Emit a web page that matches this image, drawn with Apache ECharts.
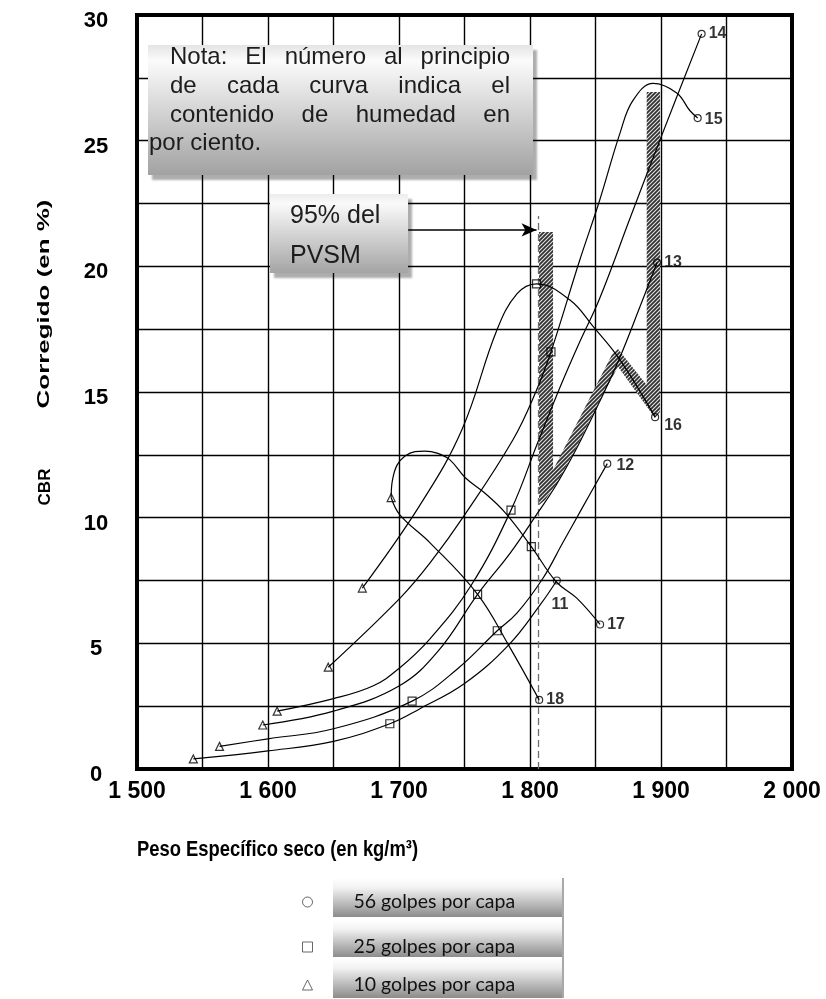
<!DOCTYPE html>
<html lang="es">
<head>
<meta charset="utf-8">
<title>CBR corregido – Peso específico seco</title>
<script src="https://cdn.jsdelivr.net/npm/echarts@6.0.0/dist/echarts.min.js"></script>
<style>
  html, body { margin: 0; padding: 0; background: #ffffff; }
  #grafico { width: 826px; height: 999px; }
</style>
</head>
<body>
<div id="grafico"></div>
<script>
// ---------------- Datos del ensayo ----------------
// Contenido de humedad (%) de cada curva
const humedades = [11, 12, 13, 14, 15, 16, 17, 18];

// Probetas de 56 golpes por capa, una por humedad (mismo orden que humedades)
// [peso específico seco (kg/m³), CBR corregido (%)]
const golpes56 = [
  [1820.5, 7.5], [1859, 12.15], [1897, 20.15], [1931, 29.25],
  [1928, 25.9], [1895.5, 14.0], [1853.5, 5.75], [1807, 2.75]
];
// Probetas de 25 golpes por capa
const golpes25 = [
  [1693, 1.8], [1710, 2.7], [1775, 5.5], [1760, 6.95],
  [1801, 8.85], [1785.5, 10.3], [1816, 16.6], [1805, 19.3]
];
// Probetas de 10 golpes por capa
const golpes10 = [
  [1543, 0.4], [1563, 0.9], [1596, 1.75], [1607, 2.3],
  [1646, 4.05], [1672, 7.2], [1694, 10.8]
];

// Probetas de 10 y 25 golpes por las que pasa cada curva (índices)
const probetasPorCurva = {
  11: { g10: [0], g25: [0] },
  12: { g10: [1], g25: [1, 2] },
  13: { g10: [2], g25: [3] },
  14: { g10: [3], g25: [5] },
  15: { g10: [4], g25: [6] },
  16: { g10: [5], g25: [7] },
  17: { g10: [6], g25: [4] },
  18: { g10: [6], g25: [3] }
};

// Trazado de cada curva entre probetas
const trazo11 = [[1600, 0.72], [1650, 1.1], [1716, 2.4], [1750, 3.4], [1784, 4.95], [1808, 6.55]];
const trazo12 = [[1600, 1.2], [1650, 1.6], [1745, 4.0], [1790, 6.2], [1810, 7.6], [1825, 9.0], [1840, 10.4]];
const trazo13 = [[1650, 2.3], [1700, 3.3], [1730, 4.7], [1785, 8.6], [1806, 10.2], [1820, 11.3],
                 [1835, 12.7], [1853, 14.6], [1868, 16.3], [1884, 18.4]];
const trazo14 = [[1650, 2.8], [1680, 3.3], [1700, 4.0], [1724, 5.2], [1755, 7.3], [1806, 13.0],
                 [1823, 15.2], [1838, 17.0], [1853, 18.7], [1877, 22.0], [1900.5, 25.2]];
const trazo15 = [[1700.8, 6.8], [1723.7, 8.2], [1750, 10.1], [1787, 13.1], [1804.4, 15.0],
                 [1838, 20.25], [1853, 22.6], [1868.7, 25.3], [1878.6, 26.6], [1894, 27.28],
                 [1912, 26.9], [1922, 26.2]];
const trazo16 = [[1716, 10.5], [1748, 13.5], [1774.6, 17.45], [1790, 18.9], [1830.5, 18.66],
                 [1848.3, 17.6], [1868.7, 16.28]];
const trazo17 = [[1695, 11.49], [1698.5, 12.09], [1704.6, 12.45], [1712.2, 12.63], [1719.8, 12.65],
                 [1729, 12.57], [1738.9, 12.3], [1750.4, 11.6], [1765, 11.0], [1781, 10.2],
                 [1820, 7.45], [1835.7, 6.8]];
const trazo18 = [[1700.8, 10.1], [1723.7, 9.0], [1783.4, 4.95]];
const trazos = { 11: trazo11, 12: trazo12, 13: trazo13, 14: trazo14,
                 15: trazo15, 16: trazo16, 17: trazo17, 18: trazo18 };

// Contorno de la zona rayada [kg/m³, CBR %]
const zonaRayada = [
  [1806.9, 21.37], [1817.6, 21.37], [1817.6, 11.9], [1862.4, 16.47], [1867.2, 16.71],
  [1889.1, 15.28], [1889.1, 26.94], [1899.2, 26.94], [1899.2, 14.2], [1895.4, 13.97],
  [1867.2, 16.0], [1853.4, 14.68], [1834.4, 12.69], [1820.6, 11.38], [1811.5, 10.7], [1806.9, 10.5]
];

// 95 % del peso volumétrico seco máximo
const pvsm95 = 1806.5;
const cbrTopeLineaPvsm = 22;
const flechaPvsm = { desde: 1707, hasta: 1805, cbr: 21.45 };

// Ejes
const rangoX = [1500, 2000], pasoX = 50, pasoEtiquetaX = 100;
const rangoY = [0, 30], pasoY = 2.5, pasoEtiquetaY = 5;

// Textos
const nombresLeyenda = ['56 golpes por capa', '25 golpes por capa', '10 golpes por capa'];
const lineasNota = ['Nota: El número al principio', 'de cada curva indica el',
                    'contenido de humedad en', 'por ciento.'];
const lineasPvsm = ['95% del', 'PVSM'];
const tituloX = 'Peso Específico seco (en kg/m³)';
const tituloY = ['CBR', 'Corregido (en %)'];

// ---------------- Construcción ----------------
const FUENTE = 'Liberation Sans';

function puntosCurva(h) {
  const p = probetasPorCurva[h];
  const pts = [golpes56[humedades.indexOf(h)]]
    .concat(p.g10.map(i => golpes10[i]), p.g25.map(i => golpes25[i]), trazos[h]);
  return pts.slice().sort((a, b) => a[0] - b[0]);
}

function miles(v) { return String(v).replace(/(\d)(?=(\d{3})+$)/g, '$1 '); }

const ctxMedida = document.createElement('canvas').getContext('2d');
function ancho(texto, size) {
  ctxMedida.font = size + 'px ' + FUENTE;
  return ctxMedida.measureText(texto).width;
}

// Trama rayada diagonal
const trama = document.createElement('canvas');
trama.width = 4; trama.height = 4;
(function () {
  const c = trama.getContext('2d');
  c.fillStyle = '#e2e2e2'; c.fillRect(0, 0, 4, 4);
  c.strokeStyle = '#2e2e2e'; c.lineWidth = 1.7;
  c.beginPath();
  c.moveTo(0, 4); c.lineTo(4, 0);
  c.moveTo(-1, 1); c.lineTo(1, -1);
  c.moveTo(3, 5); c.lineTo(5, 3);
  c.stroke();
})();

function estiloTexto(texto, size, extra) {
  return Object.assign({ text: texto, fontSize: size, fontFamily: FUENTE, fill: '#1c1c1c',
    align: 'left', verticalAlign: 'middle', textAlign: 'left', textVerticalAlign: 'middle' }, extra || {});
}

// Texto justificado de la nota
function textoNota() {
  const size = 24, x0 = 170, x1 = 510, xUltima = 149, y0 = 57.5, dy = 28.7;
  const els = [];
  lineasNota.forEach((linea, k) => {
    const y = y0 + k * dy;
    const palabras = linea.split(' ');
    if (k === lineasNota.length - 1 || palabras.length < 2) {
      els.push({ type: 'text', x: xUltima, y, z: 101, style: estiloTexto(linea, size) });
      return;
    }
    const anchos = palabras.map(p => ancho(p, size));
    const hueco = (x1 - x0 - anchos.reduce((a, b) => a + b, 0)) / (palabras.length - 1);
    let x = x0;
    palabras.forEach((p, i) => {
      els.push({ type: 'text', x, y, z: 101, style: estiloTexto(p, size) });
      x += anchos[i] + hueco;
    });
  });
  return els;
}

function degradado(c0, c1, c2) {
  return new echarts.graphic.LinearGradient(0, 0, 0, 1, [
    { offset: 0, color: c0 }, { offset: 0.12, color: c1 }, { offset: 1, color: c2 }
  ]);
}

const sombra = { shadowBlur: 2, shadowOffsetX: 4, shadowOffsetY: 5, shadowColor: 'rgba(0,0,0,0.32)' };

const graficos = [
  // recuadro de la nota
  { type: 'rect', z: 100, shape: { x: 148, y: 45, width: 385, height: 130 },
    style: Object.assign({ fill: degradado('#e4e4e4', '#fbfbfb', '#a2a2a2') }, sombra) },
  // recuadro 95% del PVSM
  { type: 'rect', z: 100, shape: { x: 270, y: 194, width: 138, height: 79 },
    style: Object.assign({ fill: degradado('#ececec', '#fafafa', '#a4a4a4') }, sombra) }
].concat(textoNota(), lineasPvsm.map((t, k) => ({
  type: 'text', x: 290, y: 216 + k * 40, z: 101, style: estiloTexto(t, 25)
})));

// títulos de los ejes
graficos.push(
  { type: 'text', x: 137, y: 850, scaleY: 1.22,
    style: estiloTexto(tituloX, 18.4, { fontWeight: 'bold', fill: '#000' }) },
  { type: 'text', x: 45, y: 487, rotation: Math.PI / 2,
    style: estiloTexto(tituloY[0], 17, { fontWeight: 'bold', fill: '#000', align: 'center', textAlign: 'center' }) },
  { type: 'text', x: 45, y: 304, rotation: Math.PI / 2, scaleX: 1.62,
    style: estiloTexto(tituloY[1], 16, { fontWeight: 'bold', fill: '#000', align: 'center', textAlign: 'center' }) }
);

// fondos de la leyenda
const cajasLeyenda = [[878, 39], [920, 37], [958, 40]];
cajasLeyenda.forEach(([y, h]) => graficos.push({
  type: 'rect', z: 1, shape: { x: 333, y, width: 230, height: h },
  style: { fill: new echarts.graphic.LinearGradient(0, 0, 0, 1, [
    { offset: 0, color: '#ffffff' }, { offset: 0.25, color: '#f2f2f2' }, { offset: 1, color: '#8c8c8c' }]) }
}));
graficos.push({ type: 'rect', z: 1, shape: { x: 562, y: 878, width: 2, height: 120 }, style: { fill: '#a8a8a8' } });

// Etiquetas de humedad junto a cada punto de 56 golpes
const colocacionEtiqueta = {
  11: { position: 'bottom', distance: 12, offset: [3, 0] },
  15: { offset: [0, 2] },
  16: { offset: [2, 8] },
  12: { offset: [2, 2] }
};

const estiloMarca = { color: 'rgba(255,255,255,0)', borderColor: '#000', borderWidth: 1.2 };

const series = [
  {
    type: 'custom', name: 'zona', silent: true, z: 1,
    data: zonaRayada, encode: { x: 0, y: 1 },
    renderItem: (params, api) => params.dataIndex !== 0 ? null : {
      type: 'polygon',
      shape: { points: zonaRayada.map(p => api.coord(p)) },
      style: { fill: { image: trama, repeat: 'repeat' }, stroke: null }
    }
  },
  {
    type: 'line', name: '95% PVSM', silent: true, z: 2, symbol: 'none',
    data: [[pvsm95, 0], [pvsm95, cbrTopeLineaPvsm]],
    lineStyle: { type: [7, 4], color: '#6e6e6e', width: 1.3 },
    markLine: {
      silent: true, symbol: ['none', 'arrow'], symbolSize: [10, 15],
      label: { show: false },
      lineStyle: { type: 'solid', color: '#000', width: 1.6 },
      data: [[{ coord: [flechaPvsm.desde, flechaPvsm.cbr] }, { coord: [flechaPvsm.hasta, flechaPvsm.cbr] }]]
    }
  }
].concat(humedades.map(h => ({
  type: 'line', name: 'w = ' + h + ' %', silent: true, z: 3,
  data: puntosCurva(h), smooth: 0.4, symbol: 'none',
  lineStyle: { color: '#000', width: 1.2 }
}))).concat([
  {
    type: 'scatter', name: nombresLeyenda[0], symbol: 'circle', symbolSize: 7, z: 4,
    itemStyle: estiloMarca,
    label: { show: true, position: 'right', distance: 3, formatter: '{b}',
             fontSize: 16, fontWeight: 'bold', fontFamily: FUENTE, color: '#000' },
    data: golpes56.map((p, i) => Object.assign(
      { value: p, name: String(humedades[i]) },
      colocacionEtiqueta[humedades[i]] ? { label: colocacionEtiqueta[humedades[i]] } : {}))
  },
  { type: 'scatter', name: nombresLeyenda[1], symbol: 'rect', symbolSize: 8, z: 4,
    itemStyle: estiloMarca, data: golpes25 },
  { type: 'scatter', name: nombresLeyenda[2], symbol: 'triangle', symbolSize: 8, z: 4,
    itemStyle: estiloMarca, data: golpes10 }
]);

const chart = echarts.init(document.getElementById('grafico'));
chart.setOption({
  animation: false,
  backgroundColor: '#ffffff',
  grid: { left: 137, top: 15, width: 655, height: 754, show: true,
          borderColor: '#000', borderWidth: 4, backgroundColor: 'transparent' },
  xAxis: {
    type: 'value', min: rangoX[0], max: rangoX[1], interval: pasoX,
    axisLine: { show: false }, axisTick: { show: false },
    splitLine: { show: true, lineStyle: { color: '#000', width: 1.4 } },
    axisLabel: {
      margin: 11, fontSize: 23, fontWeight: 'bold', fontFamily: FUENTE, color: '#000',
      formatter: v => (v % pasoEtiquetaX === 0 ? miles(v) : '')
    }
  },
  yAxis: {
    type: 'value', min: rangoY[0], max: rangoY[1], interval: pasoY,
    axisLine: { show: false }, axisTick: { show: false },
    splitLine: { show: true, lineStyle: { color: '#000', width: 1.4 } },
    axisLabel: {
      margin: 41, align: 'center', verticalAlign: 'top', lineHeight: 12,
      fontSize: 22, fontWeight: 'bold', fontFamily: FUENTE, color: '#000',
      formatter: v => (v % pasoEtiquetaY === 0 ? String(v) : '')
    }
  },
  legend: nombresLeyenda.map((nombre, i) => ({
    data: [nombre], left: 302, top: [892, 937, 975][i], padding: 0,
    itemWidth: 10, itemHeight: 10, selectedMode: false,
    itemStyle: { borderColor: '#444', borderWidth: 1 },
    textStyle: { fontFamily: 'Lato', fontSize: 19.5, color: '#111', padding: [0, 0, 0, 36] }
  })),
  graphic: { elements: graficos },
  series
});
</script>
</body>
</html>
